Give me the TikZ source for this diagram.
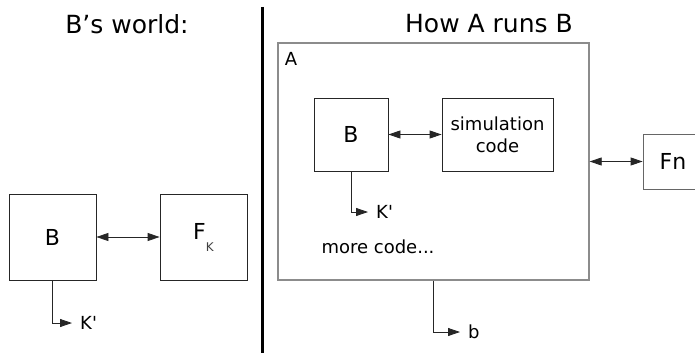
\documentclass[tikz,border=0pt]{standalone}
\usepackage{fontspec}
\setmainfont{DejaVu Sans}
\usetikzlibrary{arrows.meta}

\begin{document}
\begin{tikzpicture}[x=1pt,y=-1pt,>={Triangle[length=12pt,width=8pt]},
    box/.style={draw=black!85,line width=0.8pt,inner sep=0pt,align=center,font=\fontsize{22}{26}\selectfont},
    outer/.style={draw=black!45,line width=1.3pt,inner sep=0pt},
    lbl/.style={inner sep=0pt,font=\fontsize{18}{22}\selectfont},
    result/.style={anchor=west,inner ysep=0pt,inner xsep=8pt,font=\fontsize{18}{22}\selectfont},
    title/.style={inner sep=0pt,font=\fontsize{25}{30}\selectfont},
    link/.style={draw=black!85,line width=0.8pt}]
\useasboundingbox (0,0) rectangle (695,353);
    % left side
    \node[title] (tB) at (127,24) {B’s world:};
    \node[box,minimum width=87pt,minimum height=86pt] (lB) at (52.5,237) {B};
    \node[box,minimum width=87pt,minimum height=86pt] (lF) at (203.5,237)
        {\raisebox{3pt}{F}\raisebox{-9pt}{\fontsize{12}{13}\selectfont\color{black!75}K}};
    \node[result] (lK) at (72,323) {K\textquotesingle};
    \draw[link,<->] (lB) -- (lF);
    \draw[link,->] (lB.south) |- (lK.west);
    % divider
    \draw[line width=2.6pt] (262.5,7) -- (262.5,353);
    % right side
    \node[title] (tA) at (489,24) {How A runs B};
    \node[outer,minimum width=311pt,minimum height=237pt] (A) at (433.5,161.5) {};
    \node[lbl] (lA) at (291,59) {A};
    \node[box,minimum width=74pt,minimum height=73pt] (iB) at (351,134.5) {B};
    \node[box,minimum width=111pt,minimum height=73pt,font=\fontsize{18}{22}\selectfont] (sim) at (497.5,134.5) {simulation\\code};
    \node[result] (iK) at (368,212) {K\textquotesingle};
    \node[lbl] (more) at (378,247) {more code...};
    \node[box,draw=black!60,minimum width=60pt,minimum height=55pt] (Fn) at (673,161.5) {Fn};
    \node[result] (ob) at (460,332) {b};
    \draw[link,<->] (iB) -- (sim);
    \draw[link,->] (iB.south) |- (iK.west);
    \draw[link,<->] (A) -- (Fn);
    \draw[link,->] (A.south) |- (ob.west);
\end{tikzpicture}
\end{document}
